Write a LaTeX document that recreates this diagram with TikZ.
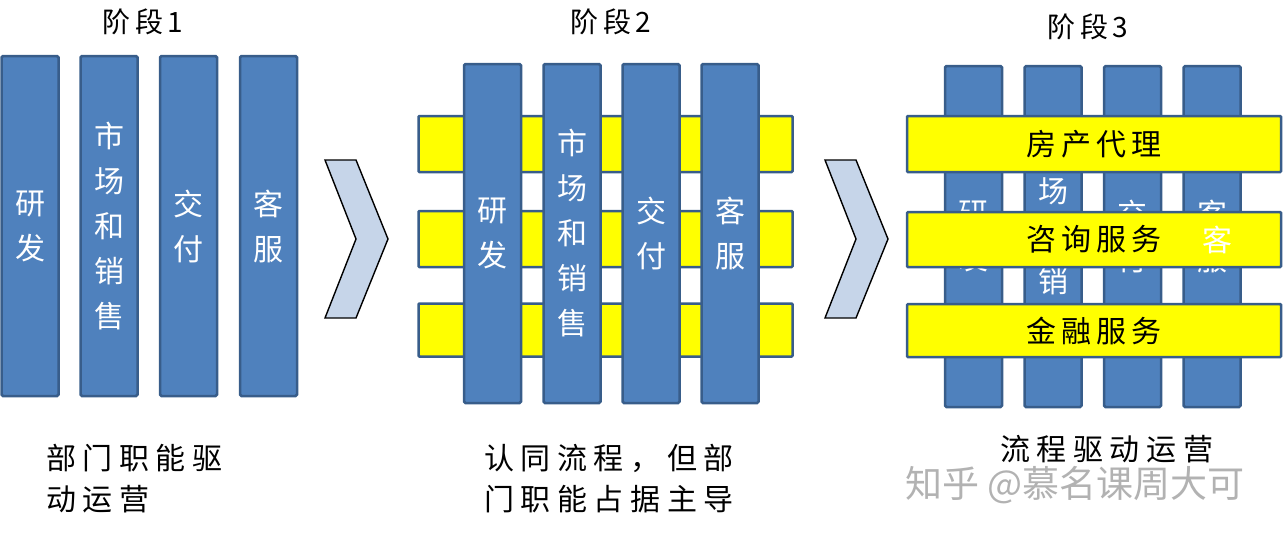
\documentclass[tikz,border=0pt]{standalone}
\usepackage{fontspec}
\newfontfamily\cjk{Noto Sans CJK SC}
\newfontfamily\cjkls{Noto Sans CJK SC}[LetterSpace=16]
\newfontfamily\cjkcap{Noto Sans CJK SC}[LetterSpace=22]
\definecolor{colfill}{HTML}{4F81BD}
\definecolor{colborder}{HTML}{385D8A}
\definecolor{chevfill}{HTML}{C6D5E9}
\definecolor{barfill}{HTML}{FFFF00}
\tikzset{
  col/.style={draw=colborder, fill=colfill, line width=2.5pt, rounded corners=1.5pt,
    minimum width=57pt, inner sep=0pt, text=white, align=center,
    font=\cjk\fontsize{30}{45}\selectfont},
  bar/.style={draw=colborder, fill=barfill, line width=2.5pt, rounded corners=1pt,
    minimum width=374pt, inner sep=0pt, font=\cjkls\fontsize{30}{35}\selectfont},
  stagelabel/.style={font=\cjkls\fontsize{28}{32}\selectfont, inner sep=0pt},
  caption/.style={font=\cjkcap\fontsize{30}{41}\selectfont, align=left, inner sep=0pt},
  chev/.style={draw=black, fill=chevfill, line width=1.4pt, line join=miter},
  wm/.style={font=\cjk\fontsize{37}{40}\selectfont, text=black!30, inner sep=0pt}
}
\begin{document}
\begin{tikzpicture}[x=1pt,y=-1pt]
\useasboundingbox (0,0) rectangle (1284,536);
% stage labels
\node[stagelabel] (l1) at (143,22) {阶段1};
\node[stagelabel] (l2) at (611,22) {阶段2};
\node[stagelabel] (l3) at (1088,27) {阶段3};
% stage 1 columns
\node[col, minimum height=340pt] (a1) at (30,226) {研\\发};
\node[col, minimum height=340pt] (a2) at (109,226) {市\\场\\和\\销\\售};
\node[col, minimum height=340pt] (a3) at (188.5,226) {交\\付};
\node[col, minimum height=340pt] (a4) at (268.5,226) {客\\服};
% chevrons
\draw[chev] (325,160) -- (356,160) -- (388,239) -- (356,318) -- (325,318) -- (356,239) -- cycle;
\draw[chev] (825,160) -- (856,160) -- (888,239) -- (856,318) -- (825,318) -- (856,239) -- cycle;
% stage 2 bars (behind)
\node[bar, minimum height=56pt] (b1) at (605.5,144) {};
\node[bar, minimum height=56pt] (b2) at (605.5,239) {};
\node[bar, minimum height=53pt] (b3) at (605.5,330) {};
% stage 2 columns
\node[col, minimum height=339pt] (c1) at (492.5,233.5) {研\\发};
\node[col, minimum height=339pt] (c2) at (572,233.5) {市\\场\\和\\销\\售};
\node[col, minimum height=339pt] (c3) at (651,233.5) {交\\付};
\node[col, minimum height=339pt] (c4) at (730,233.5) {客\\服};
% stage 3 columns
\node[col, minimum height=341pt] (d1) at (973.5,236.5) {研\\发};
\node[col, minimum height=341pt] (d2) at (1053,236.5) {市\\场\\和\\销\\售};
\node[col, minimum height=341pt] (d3) at (1132.5,236.5) {交\\付};
\node[col, minimum height=341pt] (d4) at (1212,236.5) {客\\服};
% stage 3 bars (in front)
\node[bar, minimum height=56pt] (e1) at (1094,144) {房产代理};
\node[bar, minimum height=55pt] (e2) at (1094,239.5) {咨询服务};
\node[bar, minimum height=53pt] (e3) at (1094,330.5) {金融服务};
\node[font=\cjk\fontsize{30}{32}\selectfont, text=white, inner sep=0pt] (e4) at (1217,240) {客};
% captions
\node[caption, anchor=north west] (t1) at (46,444) {部门职能驱\\动运营};
\node[caption, anchor=north west] (t2) at (484,444) {认同流程，但部\\门职能占据主导};
\node[caption, anchor=north west] (t3) at (1000,435) {流程驱动运营};
% watermark
\node[wm] (w) at (1075,485) {知乎 @慕名课周大可};
\end{tikzpicture}
\end{document}
